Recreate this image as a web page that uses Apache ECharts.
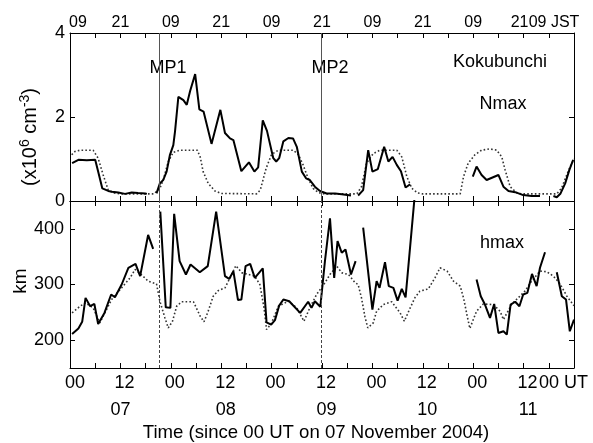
<!DOCTYPE html>
<html>
<head>
<meta charset="utf-8">
<script src="https://cdn.jsdelivr.net/npm/echarts@6/dist/echarts.min.js"></script>
<style>
html,body{margin:0;padding:0;background:#fff;}
#chart{width:593px;height:443px;}
</style>
</head>
<body>
<div id="chart"></div>
<script>
// ---- tick labels ----
const utLabels = ['00', '12'];            // at UT hour 0 and 12
const jstLabels = ['09', '21'];           // JST = UT + 9
const dayLabels = ['07', '08', '09', '10', '11'];
const nmaxTicks = [0, 2, 4];
const hmaxTicks = [200, 300, 400];
const mpHours = [21.3, 59.9];
const mpNames = ['MP1', 'MP2'];

// ---- Nmax observed (x10^6 cm^-3), segments separated by data gaps ----
const nmaxObs1 = [[0.5,0.90],[2,0.98],[4,0.97],[6,0.98],[6.7,0.70],[7.7,0.30],[9.1,0.24],[10,0.22],[11.5,0.20],[13.1,0.17],[14.7,0.20],[16.2,0.19],[17.9,0.18],[18.3,0.17]];
const nmaxObs2 = [[20.6,0.18],[21.4,0.42],[22.2,0.50],[23,0.70],[23.8,1.10],[24.6,1.33],[25,1.65],[25.8,2.48],[27,2.40],[27.8,2.29],[28.6,2.62],[29.8,3.02],[30.8,2.18],[31.8,2.13],[33.7,1.36],[35.8,2.17],[36.9,1.62],[38.1,1.49],[38.9,1.45],[40.8,0.71],[42.6,0.92],[43.9,0.70],[44.8,0.80],[45.9,1.92],[46.9,1.67],[48.4,1.02],[49.1,0.94],[49.8,1.02],[50.8,1.42],[52,1.50],[53.1,1.49],[54,1.29],[55.2,0.70],[56.2,0.54],[57.1,0.50],[58.3,0.34],[59.5,0.24],[60,0.22],[61.1,0.18],[63.1,0.18],[64.7,0.16],[66.9,0.13]];
const nmaxObs3 = [[68.6,0.13],[69.8,0.26],[71,1.21],[72,0.70],[73.3,0.76],[74.8,1.29],[75.8,0.94],[76.8,1.05],[77.8,0.86],[78.8,0.71],[79.9,0.32],[81,0.40]];
const nmaxObs4 = [[95.9,0.58],[96.8,0.82],[98,0.62],[99.2,0.50],[100.6,0.56],[102,0.62],[103.2,0.34],[104.4,0.24],[106,0.21],[107.9,0.14],[109.9,0.12],[111.9,0.12]];
const nmaxObs5 = [[115.1,0.12],[115.9,0.09],[116.8,0.18],[117.9,0.42],[118.9,0.74],[119.8,0.98]];

// ---- Nmax model (dotted) ----
const nmaxModel = [[0.4,1.10],[1.2,1.18],[2.4,1.21],[5.5,1.21],[6.7,1.02],[7.9,0.62],[9.1,0.26],[10.5,0.19],[12,0.17],[20,0.17],[21.4,0.30],[22.2,0.50],[23.4,0.94],[24.6,1.16],[26.2,1.21],[30.3,1.21],[31,1.05],[31.7,0.70],[32.9,0.42],[34.5,0.24],[36,0.18],[44.4,0.17],[45.3,0.26],[46.7,0.78],[48,1.11],[49.6,1.21],[53.2,1.21],[54.4,1.10],[55.5,0.86],[56.7,0.54],[57.9,0.30],[59.1,0.20],[60.5,0.17],[68.3,0.17],[69.4,0.34],[70.6,0.90],[72.2,1.13],[73.8,1.21],[77.8,1.21],[79,1.05],[80.2,0.58],[81.4,0.30],[82.8,0.19],[84,0.17],[92.9,0.17],[93.7,0.58],[94.8,0.90],[96.4,1.10],[98,1.21],[100,1.24],[101.6,1.21],[102.8,1.05],[103.6,0.74],[104.8,0.34],[106.3,0.20],[107.5,0.17],[115.9,0.17],[117,0.30],[118,0.55],[119,0.80],[120,1.0]];

// ---- hmax observed (km) ----
const hmaxObs1 = [[0.5,211],[2,221],[2.9,233],[3.7,276],[4.8,261],[5.8,265],[6.7,229],[8.2,249],[9.8,282],[10.7,277],[12.3,300],[13.9,330],[15.6,337],[16.7,315],[18.6,389],[19.8,364]];
const hmaxObs2 = [[21.5,431],[22.8,259],[23.9,258],[24.8,427],[26.1,342],[27.6,318],[28.7,336],[30.9,322],[32.8,333],[34.8,431],[36.9,315],[37.9,310],[38.9,324],[40,272],[40.8,273],[41.8,333],[42.9,337],[44,312],[45.9,329],[46.8,232],[47.9,228],[48.8,236],[49.8,262],[50.8,273],[52.2,270],[54.8,249],[56.7,269],[57.5,258],[58.3,270],[59.6,260],[60.7,342],[61.9,419],[62.9,312],[63.7,378],[64.7,357],[65.6,363],[66.9,318],[68,342]];
const hmaxObs3 = [[69.8,402],[72,255],[73,306],[73.7,294],[75,340],[75.9,297],[77,294],[78,271],[79,292],[79.9,277],[82.2,470]];
const hmaxObs4 = [[96.8,309],[97.8,279],[98.8,264],[100,240],[101,265],[102,213],[103.2,216],[104,210],[104.9,264],[106,269],[107,261],[107.9,282],[108.9,285],[110,319],[111.1,297],[111.9,330],[113.1,358]];
const hmaxObs5 = [[115.9,322],[117.1,279],[118.1,273],[119,216],[120,237]];

// ---- hmax model (dotted) ----
const hmaxModel = [[0.5,249],[2.4,261],[3.7,267],[5.5,258],[7.1,231],[8.3,249],[9.9,273],[12.3,294],[14.3,312],[15.5,327],[17.1,317],[18.6,306],[20.6,301],[21.4,270],[22.6,240],[23.4,222],[24.4,234],[25.4,261],[26.6,269],[29.4,269],[31,243],[31.9,233],[32.9,252],[34.1,279],[35.3,289],[36.9,294],[38.1,312],[39.5,334],[40.9,321],[42.5,318],[44,315],[45.2,300],[46.2,258],[46.8,219],[48,231],[49.6,261],[52,270],[54,258],[55.7,234],[57.1,258],[58.7,282],[60.7,303],[61.9,318],[63.5,333],[64.7,321],[66.3,318],[67.9,303],[68.6,300],[69.4,276],[70.2,243],[70.9,222],[72.2,231],[73,252],[74.6,264],[76.6,269],[78.6,249],[79.6,234],[81,258],[82.1,276],[83.3,288],[85.3,292],[86.9,312],[88.1,330],[89.8,324],[91.3,306],[92.9,297],[93.7,276],[94.5,246],[95.2,221],[96.8,252],[98.4,265],[100.8,264],[102.4,252],[103.2,237],[105.2,265],[106.7,276],[108.3,288],[109.9,306],[111.9,324],[113.5,323],[115.1,315],[116.7,301],[118.3,279],[120,262]];

const nmaxObsSegments = [nmaxObs1, nmaxObs2, nmaxObs3, nmaxObs4, nmaxObs5];
const hmaxObsSegments = [hmaxObs1, hmaxObs2, hmaxObs3, hmaxObs4, hmaxObs5];

const FONT = 'Liberation Sans, Arial, Helvetica, sans-serif';
const BLACK = '#000';

const chart = echarts.init(document.getElementById('chart'), null, {renderer: 'canvas'});

function boxAxis(grid, pos, extra) {
  return Object.assign({
    type: 'value', gridIndex: grid, position: pos, min: 0, max: 120, interval: 6,
    axisLine: {show: true, onZero: false, lineStyle: {color: BLACK, width: 1}},
    axisTick: {show: true, inside: true, length: 5, lineStyle: {color: BLACK}},
    axisLabel: {show: false},
    splitLine: {show: false}
  }, extra || {});
}

const jstAxis = boxAxis(0, 'top', {
  axisLabel: {
    show: true, margin: 2, color: BLACK, fontFamily: FONT, fontSize: 16,
    formatter: function (v) {
      if (v % 12 !== 0) return '';
      const t = jstLabels[(v / 12) % 2];
      if (v === 120) return '{last|' + t + ' JST}';
      if (v === 0) return '{first|' + t + '}';
      if (v === 108) return '{pre|' + t + '}';
      if (v === 36) return '{low|' + t + '}';
      return '{n|' + t + '}';
    },
    rich: {
      n: {fontSize: 16, fontFamily: FONT, color: BLACK},
      low: {fontSize: 16, fontFamily: FONT, color: BLACK, padding: [4, 0, 0, 0]},
      first: {fontSize: 16, fontFamily: FONT, color: BLACK, padding: [0, 0, 0, 16]},
      pre: {fontSize: 16, fontFamily: FONT, color: BLACK, padding: [0, 8, 0, 0]},
      last: {fontSize: 16, fontFamily: FONT, color: BLACK, padding: [0, 40, 0, 0]}
    }
  }
});

const utAxis = boxAxis(1, 'bottom', {
  axisLabel: {
    show: true, margin: 6, color: BLACK, fontFamily: FONT, fontSize: 18,
    formatter: function (v) {
      if (v % 12 !== 0) return '';
      const t = utLabels[(v / 12) % 2];
      if (v === 120) return '{last|' + t + ' UT}';
      if (v === 0) return '{n|' + t + '}';
      return '{s|' + t + '}';
    },
    rich: {
      n: {fontSize: 18, fontFamily: FONT, color: BLACK, padding: [0, 0, 0, 10]},
      s: {fontSize: 18, fontFamily: FONT, color: BLACK, padding: [0, 0, 0, 8]},
      last: {fontSize: 18, fontFamily: FONT, color: BLACK, padding: [0, 21, 0, 0]}
    }
  }
});

const dayAxis = {
  type: 'value', gridIndex: 1, position: 'bottom', offset: 27, min: 0, max: 120, interval: 12,
  axisLine: {show: false}, axisTick: {show: false}, splitLine: {show: false},
  axisLabel: {
    show: true, margin: 6, color: BLACK, fontFamily: FONT, fontSize: 18,
    formatter: function (v) {
      if (v % 24 !== 12) return '';
      const t = dayLabels[(v - 12) / 24];
      return v === 12 ? '{n|' + t + '}' : '{s|' + t + '}';
    },
    rich: {
      n: {fontSize: 18, fontFamily: FONT, color: BLACK},
      s: {fontSize: 18, fontFamily: FONT, color: BLACK, padding: [0, 0, 0, 9]}
    }
  }
};

function yBox(grid, pos, min, max, ticks, showLabel, margin) {
  return {
    type: 'value', gridIndex: grid, position: pos, min: min, max: max,
    axisLine: {show: true, onZero: false, lineStyle: {color: BLACK, width: 1}},
    axisTick: {show: true, inside: true, length: 5, customValues: ticks, lineStyle: {color: BLACK}},
    axisLabel: {show: showLabel, customValues: ticks, margin: margin, color: BLACK, fontFamily: FONT, fontSize: 18},
    splitLine: {show: false}
  };
}

const series = [];
nmaxObsSegments.forEach(function (seg) {
  series.push({
    type: 'line', xAxisIndex: 0, yAxisIndex: 0, data: seg, showSymbol: false, symbol: 'none',
    lineStyle: {color: BLACK, width: 2}, z: 3, silent: true
  });
});
series.push({
  type: 'line', xAxisIndex: 0, yAxisIndex: 0, data: nmaxModel, symbol: 'none',
  lineStyle: {color: '#333', width: 1.6, type: [1.6, 2.2]}, z: 2, silent: true,
  markLine: {
    silent: true, symbol: ['none', 'none'], label: {show: false}, animation: false,
    lineStyle: {color: '#555', width: 1, type: 'solid'},
    data: mpHours.map(function (h) { return {xAxis: h}; })
  }
});
hmaxObsSegments.forEach(function (seg) {
  series.push({
    type: 'line', xAxisIndex: 2, yAxisIndex: 2, data: seg, symbol: 'none',
    lineStyle: {color: BLACK, width: 2}, z: 3, silent: true, clip: true
  });
});
series.push({
  type: 'line', xAxisIndex: 2, yAxisIndex: 2, data: hmaxModel, symbol: 'none',
  lineStyle: {color: '#333', width: 1.6, type: [1.6, 2.2]}, z: 2, silent: true,
  markLine: {
    silent: true, symbol: ['none', 'none'], label: {show: false}, animation: false,
    lineStyle: {color: '#444', width: 1, type: [3, 2]},
    data: mpHours.map(function (h) { return {xAxis: h}; })
  }
});

function txt(x, y, s, size, extra) {
  return Object.assign({
    type: 'text', x: x, y: y, silent: true,
    style: {text: s, fontSize: size, fontFamily: FONT, fill: BLACK, align: 'center', verticalAlign: 'middle'}
  }, extra || {});
}

const option = {
  animation: false,
  backgroundColor: '#fff',
  grid: [
    {left: 70, top: 33, width: 504, height: 168, containLabel: false},
    {left: 70, top: 201, width: 504, height: 167, containLabel: false}
  ],
  xAxis: [
    boxAxis(0, 'bottom'),
    jstAxis,
    utAxis,
    boxAxis(1, 'top'),
    dayAxis
  ],
  yAxis: [
    yBox(0, 'left', 0, 4, nmaxTicks, true, 5),
    yBox(0, 'right', 0, 4, nmaxTicks, false, 5),
    yBox(1, 'left', 150, 450, hmaxTicks, true, 6),
    yBox(1, 'right', 150, 450, hmaxTicks, false, 6)
  ],
  series: series,
  graphic: [
    txt(168, 68, mpNames[0], 18),
    txt(330, 68, mpNames[1], 18),
    txt(500, 62, 'Kokubunchi', 18),
    txt(503, 104, 'Nmax', 18),
    txt(502, 243, 'hmax', 18),
    txt(316, 433, 'Time (since 00 UT on 07 November 2004)', 18.6),
    {
      type: 'text', x: 30, y: 137, rotation: Math.PI / 2, silent: true,
      style: {
        text: '(x10{s|6} cm{s|-3})', fontSize: 20, fontFamily: FONT, fill: BLACK,
        align: 'center', verticalAlign: 'middle',
        rich: {s: {fontSize: 14, fontFamily: FONT, fill: BLACK, padding: [0, 0, 10, 0]}}
      }
    },
    txt(21, 281, 'km', 19, {rotation: Math.PI / 2})
  ]
};

chart.setOption(option);
</script>
</body>
</html>
